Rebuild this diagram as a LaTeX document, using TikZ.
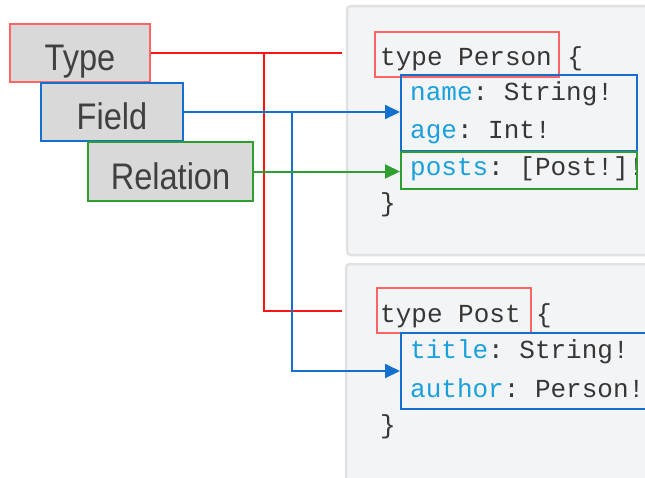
\documentclass[tikz,border=0pt]{standalone}
\usepackage{fontspec}
\setmainfont{Liberation Sans}
\setmonofont{Liberation Mono}
\newfontfamily\labelfont{Liberation Sans}[FakeStretch=0.88]
\usetikzlibrary{arrows.meta}

\definecolor{typered}{HTML}{FF1414}
\definecolor{typeedge}{HTML}{FF6464}
\definecolor{fieldblue}{HTML}{1470CC}
\definecolor{relgreen}{HTML}{2E9E2E}
\definecolor{labelgray}{HTML}{D9D9D9}
\definecolor{labeltext}{HTML}{404040}
\definecolor{panelbg}{HTML}{F3F4F6}
\definecolor{paneledge}{HTML}{E0E1E3}
\definecolor{codetext}{HTML}{363636}
\definecolor{keyword}{HTML}{1AA0DC}

\newcommand{\kw}[1]{\textcolor{keyword}{#1}}

\begin{document}
\begin{tikzpicture}[x=1pt, y=-1pt,
		label box/.style={draw, line width=1.8pt, fill=labelgray, text=labeltext,
			font=\labelfont\fontsize{37}{40}\selectfont, inner sep=0pt,
			text height=35pt, text depth=0pt},
		code/.style={anchor=base west, inner sep=0pt, text=codetext,
			font=\ttfamily\fontsize{26}{30}\selectfont},
		mark box/.style={draw, inner sep=0pt},
		link/.style={line width=2pt},
		tip/.style={-{Triangle[length=15pt, width=14pt]}}]
			%%%%% START %%%%%
			
			\clip (0, 0) rectangle (645, 477);
			
			% code panels
			\draw[line width=2.5pt, draw=paneledge, fill=panelbg, rounded corners=4pt] (347, 6) rectangle (700, 255);
			\draw[line width=2.5pt, draw=paneledge, fill=panelbg, rounded corners=4pt] (346, 264) rectangle (700, 520);
			
			% type Person
			\node[code] (lperson) at (380, 65) {type Person \{};
			\node[code] (lname) at (410, 100) {\kw{name}: String!};
			\node[code] (lage) at (410, 138) {\kw{age}: Int!};
			\node[code] (lposts) at (410, 175) {\kw{posts}: [Post!]!};
			\node[code] (lclose) at (380, 211) {\}};
			
			% type Post
			\node[code] (lpost) at (380, 322) {type Post \{};
			\node[code] (ltitle) at (410, 358) {\kw{title}: String!};
			\node[code] (lauthor) at (410, 397) {\kw{author}: Person!};
			\node[code] (lclose2) at (380, 433) {\}};
			
			% highlights
			\node[mark box, line width=1.2pt, draw=typeedge, minimum width=184pt, minimum height=45pt] (tperson) at (467, 54.5) {};
			\node[mark box, line width=1.2pt, draw=typeedge, minimum width=154pt, minimum height=45pt] (tpost) at (454, 310.5) {};
			\node[mark box, line width=2pt, draw=fieldblue, minimum width=236pt, minimum height=76pt] (fperson) at (519, 113) {};
			\node[mark box, line width=2pt, draw=relgreen, minimum width=236pt, minimum height=37pt] (rposts) at (519, 170.5) {};
			\node[mark box, line width=2pt, draw=fieldblue, minimum width=250pt, minimum height=76pt] (fpost) at (526, 371) {};
			
			% labels
			\node[label box, draw=typeedge, minimum width=140pt, minimum height=58pt] (type) at (80, 53) {Type};
			\node[label box, draw=fieldblue, minimum width=142pt, minimum height=58pt] (field) at (112, 112) {Field};
			\node[label box, draw=relgreen, minimum width=165pt, minimum height=59pt] (relation) at (170.5, 171.5) {Relation};
			
			% connectors
			\coordinate (redsplit) at (264, 53);
			\coordinate (redend1) at (342, 53);
			\coordinate (redend2) at (342, 310.5);
			\coordinate (bluesplit) at (292, 112);
			
			\draw[link, typered] (type.east) -- (redend1);
			\draw[link, typered] (redsplit) |- (redend2);
			
			\draw[link, fieldblue, tip] (field.east) -- (field.east -| fperson.west);
			\draw[link, fieldblue, tip] (bluesplit) |- (fpost.west);
			
			\draw[link, relgreen, tip] (relation.east) -- (relation.east -| rposts.west);
			
			%%%%% END %%%%%
		\end{tikzpicture}
\end{document}
